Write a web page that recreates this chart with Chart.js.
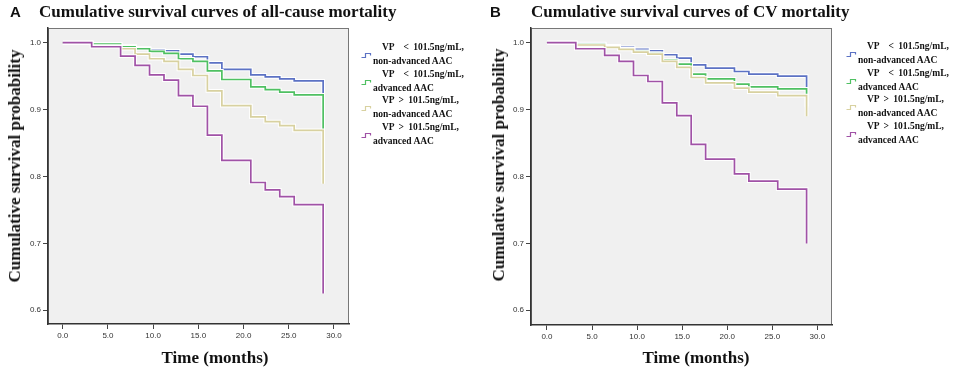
<!DOCTYPE html>
<html>
<head>
<meta charset="utf-8">
<script src="https://cdn.jsdelivr.net/npm/chart.js@4.4.1/dist/chart.umd.min.js"></script>
<style>
  body { margin: 0; background: #fff; }
  #wrap { position: relative; width: 957px; height: 369px; overflow: hidden; }
  canvas { position: absolute; top: 0; }
  .tag { position: absolute; top: 3px; font: bold 15px/18px "Liberation Sans", Arial, sans-serif; color: #111; }
  .title { position: absolute; top: 2px; font: bold 17px/20px "Liberation Serif", serif; color: #111; white-space: nowrap; }
  .ytitle, .xtitle { position: absolute; font: bold 17px/20px "Liberation Serif", serif; color: #111; white-space: nowrap; }
  .ytitle { transform: translate(-50%, -50%) rotate(-90deg); }
  .xtitle { transform: translate(-50%, -50%); }
  .leg { position: absolute; font: bold 9.5px/14px "Liberation Serif", serif; color: #111; white-space: nowrap; }
  .leg .l1 { word-spacing: 2px; }
  .leg svg { position: absolute; }
</style>
</head>
<body>
<div id="wrap">
  <canvas id="chartA" width="478" height="369" style="left:0"></canvas>
  <canvas id="chartB" width="477" height="369" style="left:480px"></canvas>

  <div class="tag" style="left:10px">A</div>
  <div class="title" style="left:39px">Cumulative survival curves of all-cause mortality</div>
  <div class="ytitle" style="left:15px; top:166px">Cumulative survival probability</div>
  <div class="xtitle" style="left:215px; top:358px">Time (months)</div>

  <div class="tag" style="left:490px">B</div>
  <div class="title" style="left:531px">Cumulative survival curves of CV mortality</div>
  <div class="ytitle" style="left:499px; top:165px">Cumulative survival probability</div>
  <div class="xtitle" style="left:696px; top:358px">Time (months)</div>
</div>
<script>
// follow-up months where any curve steps; the last entry is the final drop
const months = [0, 3.2, 6.4, 8.0, 9.6, 11.2, 12.8, 14.4, 16.0, 17.6, 20.8, 22.4, 24.0, 25.6, 28.8];

// panel A: all-cause mortality
const aBlue = [1.0, 0.998, 0.995, 0.992, 0.989, 0.988, 0.983, 0.979, 0.970, 0.960, 0.952, 0.949, 0.946, 0.943, 0.905];
const aGreen = [1.0, 0.998, 0.994, 0.991, 0.987, 0.984, 0.976, 0.972, 0.958, 0.945, 0.934, 0.930, 0.926, 0.922, 0.871];
const aTan = [1.0, 0.995, 0.991, 0.983, 0.976, 0.972, 0.960, 0.951, 0.928, 0.906, 0.889, 0.882, 0.876, 0.869, 0.789];
const aPurple = [1.0, 0.994, 0.980, 0.966, 0.952, 0.944, 0.921, 0.905, 0.862, 0.824, 0.791, 0.780, 0.770, 0.758, 0.625];

// panel B: CV mortality
const bBlue = [1.0, 0.9985, 0.9955, 0.993, 0.990, 0.988, 0.982, 0.977, 0.967, 0.962, 0.957, 0.953, 0.953, 0.950, 0.905];
const bGreen = [1.0, 0.998, 0.994, 0.991, 0.987, 0.984, 0.974, 0.968, 0.953, 0.946, 0.938, 0.934, 0.934, 0.931, 0.903];
const bTan = [1.0, 0.9966, 0.993, 0.990, 0.986, 0.983, 0.972, 0.963, 0.948, 0.940, 0.932, 0.926, 0.926, 0.921, 0.890];
const bPurple = [1.0, 0.991, 0.981, 0.972, 0.951, 0.942, 0.910, 0.891, 0.848, 0.826, 0.804, 0.793, 0.793, 0.781, 0.700];

const xTicks = [0, 5, 10, 15, 20, 25, 30];
const yTicks = [0.6, 0.7, 0.8, 0.9, 1.0];

const legendLabels = [
  ['VP\u00a0\u00a0< 101.5ng/mL,', 'non-advanced AAC'],
  ['VP\u00a0\u00a0< 101.5ng/mL,', 'advanced AAC'],
  ['VP > 101.5ng/mL,', 'non-advanced AAC'],
  ['VP > 101.5ng/mL,', 'advanced AAC'],
];
const colors = ['#5c72c4', '#4fc062', '#d8d1a0', '#a052a6'];

// grey plot area with a thin frame, like the SPSS output
const plotFrame = {
  id: 'plotFrame',
  beforeDraw(chart) {
    const { ctx, chartArea: a } = chart;
    ctx.save();
    ctx.fillStyle = '#f0f0f0';
    ctx.fillRect(a.left, a.top, a.width, a.height);
    ctx.strokeStyle = '#777';
    ctx.lineWidth = 1;
    ctx.strokeRect(a.left + 0.5, a.top + 0.5, a.width - 1, a.height - 1);
    ctx.restore();
  },
};

const tickFont = { family: '"Liberation Sans", Arial, sans-serif', size: 8 };

function survivalChart(id, series, opts) {
  const datasets = [];
  series.forEach((vals, i) => {
    const pts = months.map((m, j) => ({ x: m, y: vals[j] }));
    // white halo under each curve, then the curve itself
    datasets.push({
      data: pts, borderColor: '#ffffff', borderWidth: 3.7, order: 10 - 2 * i,
      stepped: 'before', pointRadius: 0, fill: false,
    });
    datasets.push({
      data: pts, borderColor: colors[i], borderWidth: 1.7, order: 9 - 2 * i,
      stepped: 'before', pointRadius: 0, fill: false,
    });
  });

  return new Chart(document.getElementById(id), {
    type: 'line',
    data: { datasets },
    options: {
      responsive: false,
      animation: false,
      devicePixelRatio: 1,
      layout: { padding: { top: 28, right: opts.right, left: 0, bottom: 0 } },
      plugins: {
        legend: { display: false },
        tooltip: { enabled: false },
      },
      scales: {
        x: {
          type: 'linear',
          min: opts.xMin,
          max: opts.xMax,
          afterBuildTicks: (s) => { s.ticks = xTicks.map((v) => ({ value: v })); },
          afterFit: (s) => { s.height = opts.xHeight; },
          grid: { drawOnChartArea: false, tickLength: 5, tickColor: '#444' },
          border: { color: '#333', width: 1.5 },
          ticks: {
            font: tickFont, color: '#333', padding: 2, maxRotation: 0, autoSkip: false,
            callback: (v) => v.toFixed(1),
          },
        },
        y: {
          type: 'linear',
          min: opts.yMin,
          max: 1.022,
          afterBuildTicks: (s) => { s.ticks = yTicks.map((v) => ({ value: v })); },
          afterFit: (s) => { s.width = opts.yWidth; },
          grid: { drawOnChartArea: false, tickLength: 5, tickColor: '#444' },
          border: { color: '#333', width: 1.5 },
          ticks: {
            font: tickFont, color: '#333', padding: 2, autoSkip: false,
            callback: (v) => v.toFixed(1),
          },
        },
      },
    },
    plugins: [plotFrame],
  });
}

function legend(left, top, step) {
  const wrap = document.getElementById('wrap');
  legendLabels.forEach(([l1, l2], i) => {
    const y = top + i * step;
    const item = document.createElement('div');
    item.className = 'leg';
    item.style.left = (left + 12) + 'px';
    item.style.top = y + 'px';
    item.innerHTML = `<div class="l1" style="padding-left:9px">${l1}</div><div>${l2}</div>`;
    wrap.appendChild(item);

    const icon = document.createElementNS('http://www.w3.org/2000/svg', 'svg');
    icon.setAttribute('width', '11');
    icon.setAttribute('height', '7');
    icon.style.position = 'absolute';
    icon.style.left = left + 'px';
    icon.style.top = (y + 12) + 'px';
    icon.innerHTML = `<path d="M0.5 5.5 H4.5 V1.5 H9.5 V3.5" fill="none" stroke="${colors[i]}" stroke-width="1.2"/>`;
    wrap.appendChild(icon);
  });
}

survivalChart('chartA', [aBlue, aGreen, aTan, aPurple], {
  xMin: -1.63, xMax: 31.66, yMin: 0.5795, yWidth: 48, xHeight: 45, right: 129,
});
survivalChart('chartB', [bBlue, bGreen, bTan, bPurple], {
  xMin: -1.77, xMax: 31.62, yMin: 0.578, yWidth: 51, xHeight: 44, right: 125,
});

legend(361, 40, 26.5);
legend(846, 39, 26.7);
</script>
</body>
</html>
